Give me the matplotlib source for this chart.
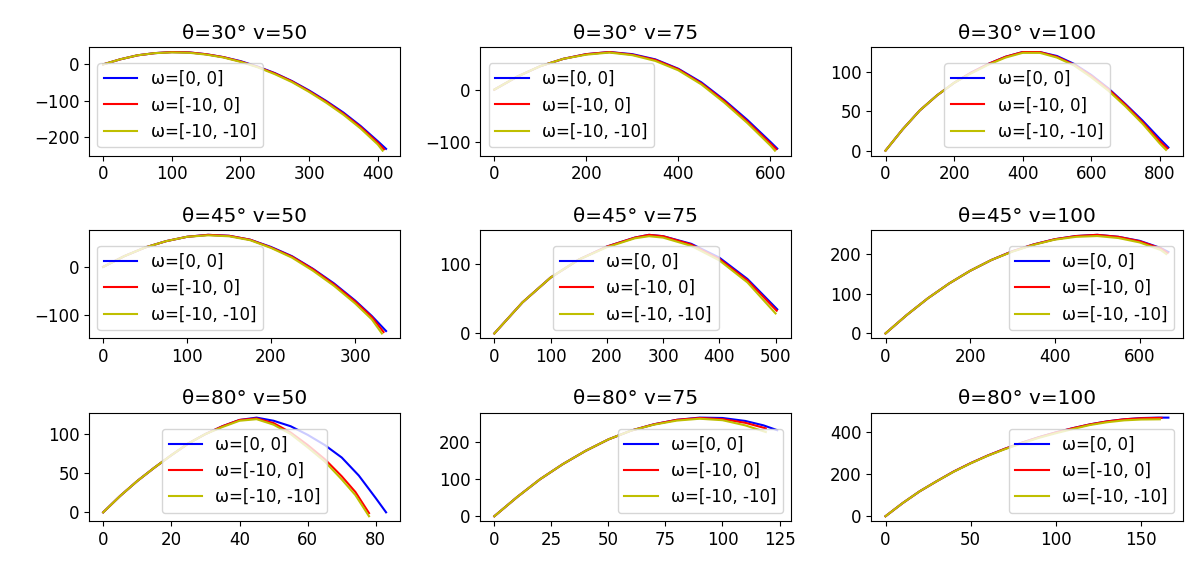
import matplotlib
matplotlib.use('Agg')
import matplotlib.pyplot as plt

plt.rcParams['font.size'] = 12

# trajectories: (x, y) for w=[0,0], w=[-10,0], w=[-10,-10]
t30_v50 = [
    ([0, 25, 50, 75, 100, 125, 150, 175, 200, 225, 250, 275, 300, 325, 350, 375, 400, 412],
     [0, 14, 25, 31, 34, 33, 28, 20, 9, -6, -24, -46, -72, -101, -133, -170, -212, -233]),
    ([0, 25, 50, 75, 100, 125, 150, 175, 200, 225, 250, 275, 300, 325, 350, 375, 400, 409],
     [0, 14, 25, 31, 34, 33, 28, 20, 8, -7, -25, -47, -74, -103, -136, -173, -216, -234]),
    ([0, 25, 50, 75, 100, 125, 150, 175, 200, 225, 250, 275, 300, 325, 350, 375, 400, 407],
     [0, 14, 25, 31, 33, 32, 27, 19, 7, -8, -27, -49, -76, -106, -139, -177, -221, -238]),
]
t30_v75 = [
    ([0, 50, 100, 150, 200, 250, 300, 350, 400, 450, 500, 550, 600, 615],
     [0, 25, 45, 59, 68, 72, 68, 58, 40, 14, -20, -58, -100, -113]),
    ([0, 50, 100, 150, 200, 250, 300, 350, 400, 450, 500, 550, 600, 613],
     [0, 25, 45, 59, 68, 72, 67, 57, 39, 12, -22, -61, -103, -114]),
    ([0, 50, 100, 150, 200, 250, 300, 350, 400, 450, 500, 550, 600, 610],
     [0, 25, 45, 59, 67, 71, 66, 55, 37, 10, -25, -64, -107, -117]),
]
t30_v100 = [
    ([0, 50, 100, 150, 200, 250, 300, 350, 400, 450, 500, 550, 600, 650, 700, 750, 800, 825],
     [0, 27, 51, 70, 86, 99, 110, 119, 125, 125, 120, 110, 96, 79, 59, 38, 15, 4]),
    ([0, 50, 100, 150, 200, 250, 300, 350, 400, 450, 500, 550, 600, 650, 700, 750, 800, 822],
     [0, 27, 51, 70, 86, 99, 110, 119, 125, 125, 119, 109, 95, 78, 58, 36, 12, 3]),
    ([0, 50, 100, 150, 200, 250, 300, 350, 400, 450, 500, 550, 600, 650, 700, 750, 800, 818],
     [0, 27, 51, 70, 86, 98, 109, 118, 124, 124, 118, 108, 93, 76, 56, 34, 9, 1]),
]
t45_v50 = [
    ([0, 25, 50, 75, 100, 125, 150, 175, 200, 225, 250, 275, 300, 320, 337],
     [0, 22, 40, 53, 62, 66, 64, 56, 41, 22, -4, -34, -69, -101, -132]),
    ([0, 25, 50, 75, 100, 125, 150, 175, 200, 225, 250, 275, 300, 320, 334],
     [0, 22, 40, 53, 62, 66, 64, 56, 40, 21, -5, -36, -71, -103, -134]),
    ([0, 25, 50, 75, 100, 125, 150, 175, 200, 225, 250, 275, 300, 320, 332],
     [0, 22, 40, 53, 62, 65, 63, 55, 39, 19, -8, -39, -75, -108, -137]),
]
t45_v75 = [
    ([0, 50, 100, 150, 200, 250, 275, 300, 350, 400, 450, 503],
     [0, 45, 81, 107, 126, 139, 143, 141, 130, 110, 79, 35]),
    ([0, 50, 100, 150, 200, 250, 275, 300, 350, 400, 450, 502],
     [0, 45, 81, 107, 126, 139, 143, 141, 129, 108, 77, 33]),
    ([0, 50, 100, 150, 200, 250, 275, 300, 350, 400, 450, 500],
     [0, 45, 81, 107, 125, 138, 141, 139, 127, 106, 74, 29]),
]
t45_v100 = [
    ([0, 50, 100, 150, 200, 250, 300, 350, 400, 450, 500, 550, 600, 650, 668],
     [0, 46, 88, 125, 157, 184, 206, 223, 236, 244, 247, 242, 232, 214, 204]),
    ([0, 50, 100, 150, 200, 250, 300, 350, 400, 450, 500, 550, 600, 650, 666],
     [0, 46, 88, 125, 157, 184, 206, 223, 236, 244, 247, 242, 231, 213, 202]),
    ([0, 50, 100, 150, 200, 250, 300, 350, 400, 450, 500, 550, 600, 650, 663],
     [0, 46, 88, 125, 157, 184, 205, 222, 235, 242, 244, 239, 228, 209, 199]),
]
t80_v50 = [
    ([0, 5, 10, 15, 20, 25, 30, 35, 40, 45, 50, 55, 60, 65, 70, 75, 80, 83],
     [0, 21, 40, 57, 73, 88, 100, 110, 118, 121, 117, 110, 99, 86, 70, 47, 18, 0]),
    ([0, 5, 10, 15, 20, 25, 30, 35, 40, 45, 50, 55, 60, 65, 70, 74, 78],
     [0, 21, 40, 57, 73, 88, 100, 110, 118, 120, 114, 102, 86, 68, 46, 26, -1]),
    ([0, 5, 10, 15, 20, 25, 30, 35, 40, 45, 50, 55, 60, 65, 70, 74, 78],
     [0, 21, 40, 57, 73, 88, 100, 109, 117, 119, 112, 100, 83, 65, 42, 22, -5]),
]
t80_v75 = [
    ([0, 10, 20, 30, 40, 50, 60, 70, 80, 90, 100, 110, 118, 124],
     [0, 52, 100, 141, 177, 208, 232, 249, 261, 267, 266, 258, 246, 233]),
    ([0, 10, 20, 30, 40, 50, 60, 70, 80, 90, 100, 110, 119],
     [0, 52, 100, 141, 177, 208, 232, 249, 261, 266, 263, 253, 238]),
    ([0, 10, 20, 30, 40, 50, 60, 70, 80, 90, 100, 110, 119],
     [0, 52, 100, 141, 177, 208, 232, 248, 259, 264, 260, 246, 228]),
]
t80_v100 = [
    ([0, 10, 20, 30, 40, 50, 60, 70, 80, 90, 100, 110, 120, 130, 140, 150, 160, 166],
     [0, 62, 118, 166, 212, 252, 288, 320, 349, 375, 398, 418, 436, 450, 460, 466, 468, 468]),
    ([0, 10, 20, 30, 40, 50, 60, 70, 80, 90, 100, 110, 120, 130, 140, 150, 162],
     [0, 62, 118, 166, 212, 252, 288, 320, 349, 375, 398, 418, 436, 450, 460, 465, 467]),
    ([0, 10, 20, 30, 40, 50, 60, 70, 80, 90, 100, 110, 120, 130, 140, 150, 161],
     [0, 62, 118, 166, 211, 251, 287, 318, 346, 372, 394, 414, 433, 446, 455, 459, 460]),
]

angles = [30, 45, 80]
speeds = [50, 75, 100]
omegas = ['ω=[0, 0]', 'ω=[-10, 0]', 'ω=[-10, -10]']
colors = ['b', 'r', 'y']

grid = [[t30_v50, t30_v75, t30_v100],
        [t45_v50, t45_v75, t45_v100],
        [t80_v50, t80_v75, t80_v100]]
leg_loc = [['lower left', 'lower left', 'lower center'],
           ['lower left', 'lower center', 'lower right'],
           ['lower center', 'lower right', 'lower right']]

fig, axes = plt.subplots(3, 3, figsize=(12.03, 5.61), dpi=100)
plt.subplots_adjust(left=0.074, right=0.983, top=0.916, bottom=0.071,
                    wspace=0.257, hspace=0.685)

for i, th in enumerate(angles):
    for j, v in enumerate(speeds):
        ax = axes[i][j]
        for (xs, ys), c, lab in zip(grid[i][j], colors, omegas):
            ax.plot(xs, ys, '-' + c, label=lab)
        ax.set_title('θ=%d° v=%d' % (th, v))
        ax.legend(loc=leg_loc[i][j])

fig.savefig('out.png', dpi=100)
